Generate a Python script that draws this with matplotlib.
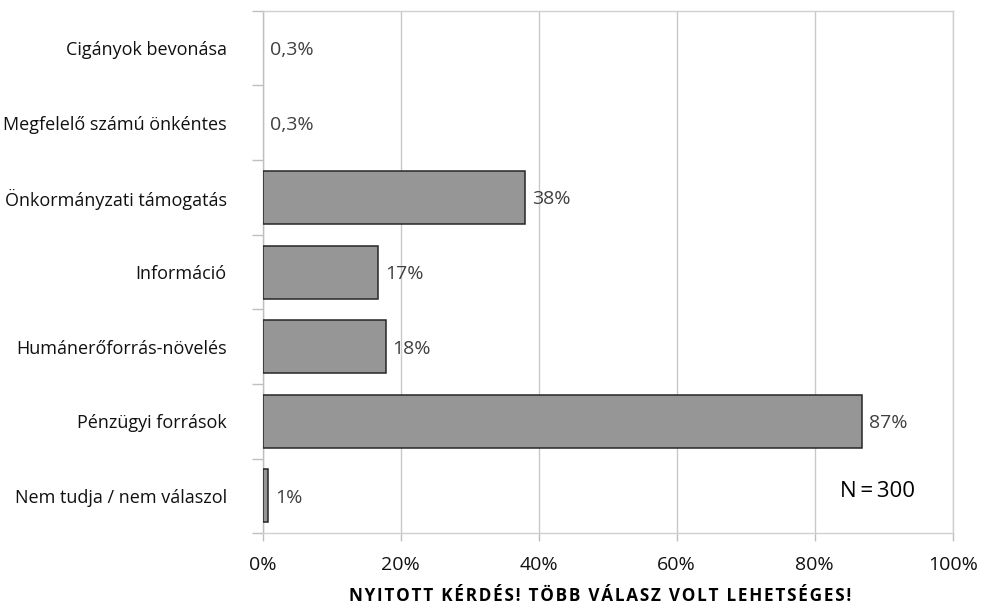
import matplotlib.pyplot as plt
from matplotlib.ticker import FixedLocator

categories = ["Cigányok bevonása", "Megfelelő számú önkéntes", "Önkormányzati támogatás",
              "Információ", "Humánerőforrás-növelés", "Pénzügyi források",
              "Nem tudja / nem válaszol"]
values = [0.0, 0.0, 38.0, 16.7, 17.8, 86.9, 0.8]
value_labels = ["0,3%", "0,3%", "38%", "17%", "18%", "87%", "1%"]
xticks = [0, 20, 40, 60, 80, 100]
note = "NYITOTT KÉRDÉS! TÖBB VÁLASZ VOLT LEHETSÉGES!"

plt.rcParams['font.family'] = ['Open Sans', 'DejaVu Sans']

fig = plt.figure(figsize=(9.87, 6.06), dpi=100)
ax = fig.add_axes([0.2662, 0.12, 0.699, 0.8623])

pos = list(range(len(categories)))
widths = [0 if v == 0 else 1.1 for v in values]
ax.barh(pos, values, height=0.71, color="#969696", edgecolor="#262626", linewidth=widths, zorder=3)

for p, v, lab in zip(pos, values, value_labels):
    ax.annotate(lab, (v, p), xytext=(7, -2), textcoords="offset pixels",
                va="center", ha="left", fontsize=14, color="#404040", zorder=4)

ax.set_xlim(0, 100)
ax.set_ylim(len(categories) - 0.5, -0.5)
ax.set_xticks(xticks)
ax.set_xticklabels([f"{t}%" for t in xticks], fontsize=14, color="#111111")
ax.set_yticks(pos)
ax.set_yticklabels(categories, fontsize=13, color="#111111")
ax.yaxis.set_minor_locator(FixedLocator([p - 0.5 for p in pos] + [len(pos) - 0.5]))

ax.tick_params(axis="y", which="major", length=0, pad=26)
ax.tick_params(axis="y", which="minor", length=8, color="#bfbfbf", width=1)
ax.tick_params(axis="x", length=6, color="#bfbfbf", width=1, pad=10)

ax.grid(axis="x", color="#c8c8c8", linewidth=1, zorder=0)
for s in ["left", "bottom", "top", "right"]:
    ax.spines[s].set_color("#d0d0d0")
    ax.spines[s].set_linewidth(1)
ax.spines["left"].set_color("#bfbfbf")

ax.text(0.946, 0.08, "N\u2009=\u2009300", transform=ax.transAxes, ha="right", va="center",
        fontsize=16, color="#000000")

fig.text(0.608, 0.017, "\u200a".join(note), ha="center", va="center",
         fontsize=12.3, fontweight="bold", color="#000000")

fig.savefig("out.png", dpi=100)
